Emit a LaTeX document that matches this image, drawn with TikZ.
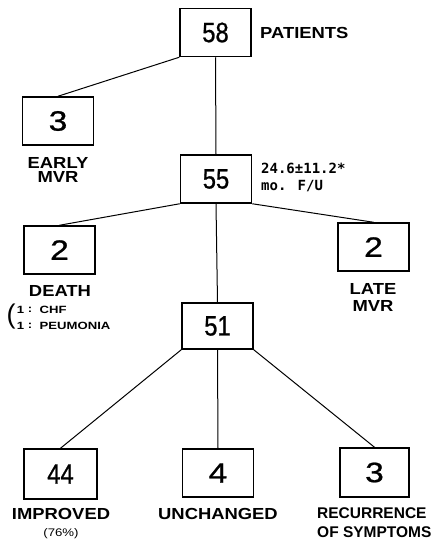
\documentclass[tikz,border=0pt]{standalone}
\usepackage{fontspec}
\setmainfont{Liberation Sans}
\newfontfamily\labfont[FakeStretch=1.15]{Liberation Sans Bold}
\newfontfamily\recfont[FakeStretch=1.0]{Liberation Sans Bold}
\newfontfamily\smallfont[FakeStretch=1.25]{Liberation Sans Bold}
\newfontfamily\pctfont[FakeStretch=1.2]{Liberation Sans}
\newfontfamily\widenum[FakeStretch=1.2,FakeBold=0.8]{Liberation Sans}
\newfontfamily\narrownum[FakeStretch=0.85,FakeBold=0.8]{Liberation Sans}
\newfontfamily\monofont{DejaVu Sans Mono Bold}
\begin{document}
\begin{tikzpicture}[x=1pt,y=-1pt,
  box/.style={draw,line width=1.5pt,inner sep=0pt,minimum width=71pt,minimum height=48pt},
  nn/.style={box,font=\narrownum\fontsize{28}{28}\selectfont},
  wn/.style={box,font=\widenum\fontsize{28}{28}\selectfont},
  lab/.style={inner sep=0pt,font=\labfont\fontsize{16}{17}\selectfont,align=center},
  rec/.style={inner sep=0pt,font=\recfont\fontsize{15.5}{16}\selectfont},
  sm/.style={inner sep=0pt,font=\smallfont\fontsize{10.5}{11}\selectfont},
  mono/.style={inner sep=0pt,font=\monofont\fontsize{14}{15}\selectfont},
  link/.style={line width=1pt}]
\useasboundingbox (0,0) rectangle (442,541);
\fill[white] (0,0) rectangle (442,541);
% boxes
\node[nn] (n58) at (215.5,32.5) {58};
\node[wn] (n3a) at (58,121) {3};
\node[nn] (n55) at (216,179) {55};
\node[wn] (d2) at (59.5,250) {2};
\node[wn] (l2) at (373.5,247) {2};
\node[nn,minimum height=46pt] (n51) at (217.5,326) {51};
\node[nn,minimum width=73pt,minimum height=50pt] (n44) at (60.5,474) {44};
\node[wn] (n4) at (218,473) {4};
\node[wn,minimum width=69pt,minimum height=49pt] (n3b) at (374.5,472.5) {3};
% connectors
\draw[link] (n58.south west) -- (n3a.north);
\draw[link] (n58.south) -- (n55.north);
\draw[link] (n55.south west) -- (d2.north);
\draw[link] (n55.south east) -- (l2.north);
\draw[link] (n55.south) -- (n51.north);
\draw[link] (n51.south west) -- (n44.north);
\draw[link] (n51.south) -- (n4.north);
\draw[link] (n51.south east) -- (n3b.north);
% labels
\node[lab,anchor=west] (tpat) at (260,32.5) {PATIENTS};
\node[mono,anchor=west] (tfu1) at (261,168) {24.6±11.2*};
\node[mono,anchor=west] (tfu2) at (261,186.5) {mo. F/U};
\node[lab] (tearly) at (58,162.5) {EARLY};
\node[lab] (tmvr1) at (58,177) {MVR};
\node[lab] (tdeath) at (60,291) {DEATH};
\node[sm] (tone1) at (20.5,310) {1};
\node[sm] (tcol1) at (30,310) {:};
\node[sm,anchor=west] (tchf) at (39.5,310) {CHF};
\node[sm] (tone2) at (20.5,325.5) {1};
\node[sm] (tcol2) at (30,325.5) {:};
\node[sm,anchor=west] (tpeu) at (39.5,325.5) {PEUMONIA};
\node[inner sep=0pt,font=\fontsize{27}{27}\selectfont] (paren) at (11,317) {(};
\node[lab] (tlate) at (373,289) {LATE};
\node[lab] (tmvr2) at (373,306) {MVR};
\node[lab] (timp) at (61,514) {IMPROVED};
\node[inner sep=0pt,font=\pctfont\fontsize{11}{12}\selectfont] (tpct) at (61,534) {(76\%)};
\node[lab] (tunch) at (218,514) {UNCHANGED};
\node[rec,anchor=west] (trec1) at (317,513) {RECURRENCE};
\node[rec,anchor=west] (trec2) at (317,532.5) {OF SYMPTOMS};
\end{tikzpicture}
\end{document}
